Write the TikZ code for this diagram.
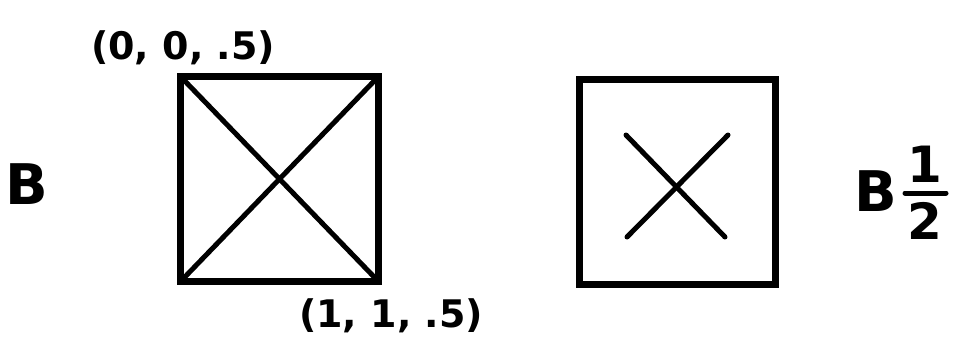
\documentclass[tikz,border=0pt]{standalone}
\usepackage{fontspec}
\setmainfont{DejaVu Sans}
\begin{document}
\begin{tikzpicture}[x=1pt,y=-1pt,
  box/.style={draw, line width=7pt, outer sep=0pt, inner sep=0pt, minimum width=#1, minimum height=205pt},
  diag/.style={line width=5pt},
  lbl/.style={font=\fontsize{38}{40}\selectfont\bfseries, inner sep=0pt},
  big/.style={font=\fontsize{56}{58}\selectfont\bfseries, inner sep=0pt},
  frac/.style={font=\fontsize{50}{52}\selectfont\bfseries, inner sep=0pt}]
\useasboundingbox (0,0) rectangle (961,364);
% left square
\node[box=198pt] (sq1) at (279.5,179) {};
\draw[diag] (sq1.north west) -- (sq1.south east);
\draw[diag] (sq1.north east) -- (sq1.south west);
% right square
\node[box=196pt] (sq2) at (677.5,182) {};
\coordinate (a1) at (626,135);
\coordinate (a2) at (725,237);
\coordinate (b1) at (728,135);
\coordinate (b2) at (627,237);
\draw[diag, line cap=round] (a1) -- (a2);
\draw[diag, line cap=round] (b1) -- (b2);
% labels
\node[lbl] (tl) at (183,48) {(0, 0, .5)};
\node[lbl] (br) at (391,316) {(1, 1, .5)};
\node[big] (B) at (27,184) {B};
\node[big] (B2) at (876,191) {B};
\node[frac] (one) at (925,164) {1};
\node[frac] (two) at (925,221) {2};
\coordinate (f1) at (905,193);
\coordinate (f2) at (946,193);
\draw[line width=5pt, line cap=round] (f1) -- (f2);
\end{tikzpicture}
\end{document}
